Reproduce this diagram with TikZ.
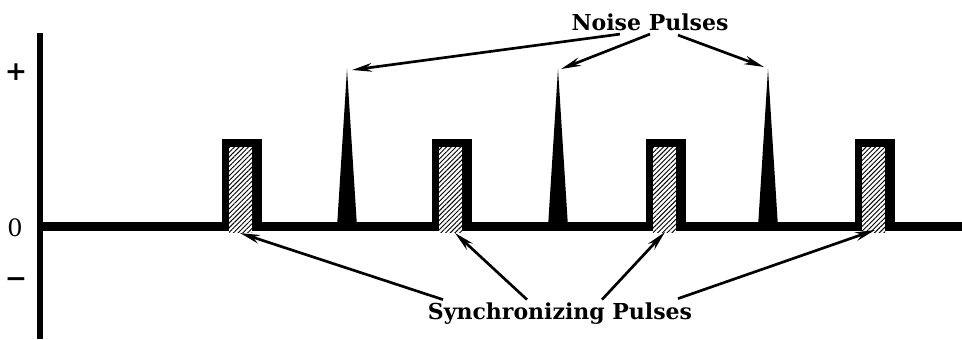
\documentclass[tikz,border=0pt]{standalone}
\usepackage{fontspec}
\setmainfont{DejaVu Serif}
\usetikzlibrary{calc, arrows.meta, patterns.meta}

\begin{document}
\begin{tikzpicture}[x=0.75pt, y=-0.75pt, >={Stealth[length=15pt, width=6.5pt]},
    pointer/.style={->, line width=2pt},
    label/.style={font=\bfseries\fontsize{16.5}{20}\selectfont, inner sep=1pt},
    sign/.style={font=\bfseries\fontsize{20}{22}\selectfont, inner sep=1pt}]
    \useasboundingbox (0,0) rectangle (962,339);
    % 1. Trục và đường 0
    \draw[line width=4.5pt] (40,33) -- (40,339);
    \draw[line width=6.75pt] (40,226.5) -- (962,226.5);
    \node[sign] (plus) at (16,72) {+};
    \node[label, font=\fontsize{18}{20}\selectfont] (zero) at (15,228) {0};
    \node[sign] (minus) at (16,283) {−};

    % 2. Xung đồng bộ (gạch chéo)
    \foreach \xa in {222,432,646,855} {
        \fill (\xa,139) rectangle (\xa+40,231);
        \fill[white] (\xa+7,147) rectangle (\xa+30,232);
        \fill[pattern={Lines[angle=45, distance=2.5pt, line width=0.7pt]}]
            (\xa+7,147) rectangle (\xa+30,232);
    }
    % 3. Xung nhiễu
    \foreach \xn in {347,558,768}
        \fill (\xn-10,227) -- (\xn,69) -- (\xn+10,227) -- cycle;

    % 4. Nhãn và mũi tên
    \node[label] (noise) at (650,22) {Noise Pulses};
    \node[label] (sync) at (560,314) {Synchronizing Pulses};
    \coordinate (n1) at (352,70);
    \coordinate (n2) at (561,69);
    \coordinate (n3) at (764,67);
    \coordinate (s1) at (240,233);
    \coordinate (s2) at (455,233);
    \coordinate (s3) at (665,232);
    \coordinate (s4) at (875,230);
    \draw[pointer] ($(noise.south)+(-30,2)$) -- (n1);
    \draw[pointer] ($(noise.south)+(0,2)$) -- (n2);
    \draw[pointer] ($(noise.south)+(28,3)$) -- (n3);
    \draw[pointer] ($(sync.north)+(-117,-2)$) -- (s1);
    \draw[pointer] ($(sync.north)+(-33,-2)$) -- (s2);
    \draw[pointer] ($(sync.north)+(42,-2)$) -- (s3);
    \draw[pointer] ($(sync.north)+(118,-3)$) -- (s4);
\end{tikzpicture}
\end{document}
